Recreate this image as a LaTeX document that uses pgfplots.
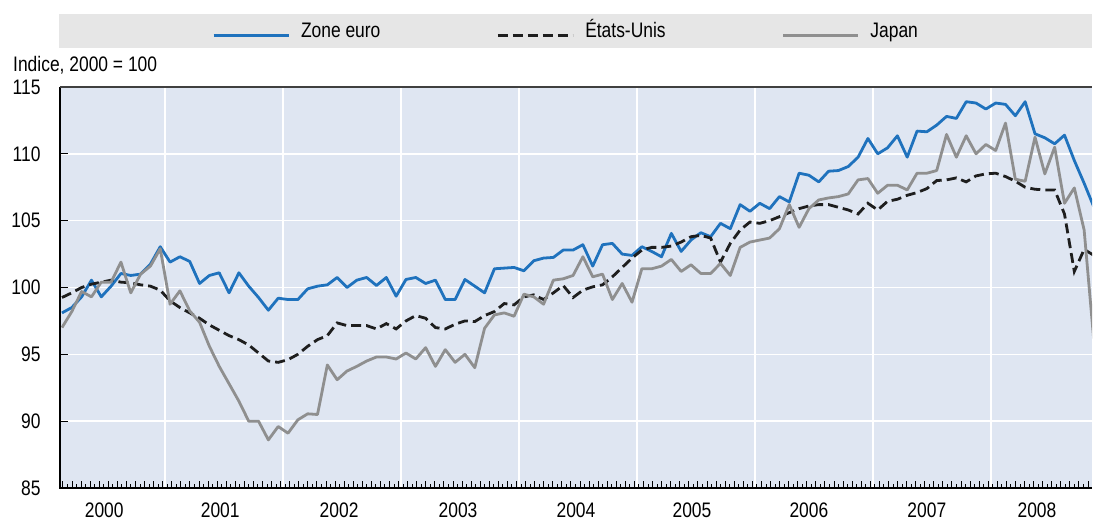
\documentclass[border=0pt]{standalone}
\usepackage{fontspec}
\setmainfont{Liberation Sans}[FakeStretch=0.83]
\usepackage{pgfplots}
\usepackage{pgfplotstable}
\pgfplotsset{compat=1.18}
\definecolor{zeblue}{RGB}{31,114,189}
\definecolor{jpgray}{RGB}{143,143,143}
\definecolor{bgblue}{RGB}{223,230,242}
\definecolor{leggray}{RGB}{230,230,230}
\definecolor{usblack}{RGB}{30,30,30}

\pgfplotstableread{
u ze us jp
1.5 98.1 99.25 97.0
2.5 98.5 99.6 98.2
3.5 99.3 100.0 99.7
4.5 100.55 100.25 99.3
5.5 99.3 100.4 100.4
6.5 100.1 100.55 100.4
7.5 101.05 100.4 101.9
8.5 100.9 100.35 99.6
9.5 101.0 100.2 101.0
10.5 101.75 100.1 101.6
11.5 103.05 99.8 102.9
12.5 101.9 99.0 98.75
13.5 102.3 98.5 99.75
14.5 101.95 98.1 98.25
15.5 100.3 97.7 97.4
16.5 100.9 97.2 95.6
17.5 101.1 96.8 94.1
18.5 99.6 96.4 92.8
19.5 101.1 96.1 91.5
20.5 100.1 95.7 90.0
21.5 99.25 95.1 90.0
22.5 98.3 94.5 88.6
23.5 99.2 94.4 89.6
24.5 99.1 94.6 89.1
25.5 99.1 95.0 90.1
26.5 99.9 95.6 90.55
27.5 100.1 96.1 90.5
28.5 100.2 96.4 94.2
29.5 100.75 97.35 93.1
30.5 100.0 97.15 93.75
31.5 100.55 97.15 94.1
32.5 100.75 97.15 94.5
33.5 100.15 96.9 94.8
34.5 100.75 97.3 94.8
35.5 99.35 96.9 94.65
36.5 100.6 97.5 95.1
37.5 100.75 97.9 94.65
38.5 100.3 97.7 95.5
39.5 100.55 97.0 94.1
40.5 99.1 96.9 95.35
41.5 99.1 97.25 94.4
42.5 100.6 97.5 95.0
43.5 100.1 97.45 94.0
44.5 99.6 97.9 96.95
45.5 101.4 98.2 97.95
46.5 101.45 98.8 98.1
47.5 101.5 98.7 97.85
48.5 101.25 99.3 99.5
49.5 102.0 99.45 99.3
50.5 102.2 99.1 98.75
51.5 102.25 99.6 100.55
52.5 102.8 100.15 100.65
53.5 102.8 99.25 100.9
54.5 103.2 99.8 102.3
55.5 101.6 100.05 100.8
56.5 103.2 100.2 101.0
57.5 103.3 100.8 99.1
58.5 102.5 101.5 100.3
59.5 102.4 102.2 98.9
60.5 103.05 102.8 101.4
61.5 102.7 103.0 101.4
62.5 102.3 103.0 101.6
63.5 104.05 103.1 102.1
64.5 102.7 103.4 101.2
65.5 103.55 103.8 101.7
66.5 104.1 103.9 101.05
67.5 103.8 103.7 101.05
68.5 104.8 101.9 101.8
69.5 104.4 103.3 100.9
70.5 106.2 104.3 103.0
71.5 105.7 104.9 103.4
72.5 106.3 104.8 103.55
73.5 105.9 105.0 103.7
74.5 106.8 105.3 104.4
75.5 106.4 105.6 106.2
76.5 108.55 105.9 104.5
77.5 108.4 106.1 105.9
78.5 107.9 106.2 106.55
79.5 108.7 106.2 106.7
80.5 108.75 106.0 106.8
81.5 109.05 105.8 107.0
82.5 109.75 105.5 108.05
83.5 111.15 106.3 108.15
84.5 110.0 105.8 107.05
85.5 110.45 106.45 107.65
86.5 111.35 106.6 107.65
87.5 109.75 106.9 107.3
88.5 111.7 107.1 108.55
89.5 111.65 107.4 108.55
90.5 112.15 108.0 108.75
91.5 112.8 108.05 111.45
92.5 112.65 108.2 109.75
93.5 113.9 107.9 111.35
94.5 113.8 108.35 110.0
95.5 113.35 108.5 110.7
96.5 113.8 108.55 110.25
97.5 113.7 108.3 112.3
98.5 112.85 107.95 108.1
99.5 113.9 107.5 107.95
100.5 111.5 107.35 111.25
101.5 111.2 107.3 108.5
102.5 110.75 107.3 110.5
103.5 111.4 105.5 106.3
104.5 109.5 101.2 107.45
105.5 107.8 102.85 104.3
106.5 106.0 102.4 95.9
}\data

\begin{document}
\begin{tikzpicture}
\fill[leggray] (-1pt,440pt) rectangle (1032pt,474pt);
\begin{axis}[
  at={(0,0)}, anchor=south west,
  scale only axis, width=1032pt, height=401pt,
  xmin=1.3, xmax=106.3, ymin=85, ymax=115,
  axis background/.style={fill=bgblue},
  axis line style={draw=none},
  xtick={12,24,...,96}, xticklabels={},
  xmajorgrids, ymajorgrids,
  ytick={85,90,...,115},
  ytick pos=left, xtick pos=bottom,
  major tick length=8pt, tick align=inside,
  major x tick style={draw=none},
  major y tick style={black, line width=1.2pt},
  grid style={white, line width=1.6pt},
  font=\fontsize{21}{25}\selectfont,
  /pgf/number format/assume math mode=true,
  yticklabel style={xshift=-16pt},
  legend style={draw=none, fill=none, inner sep=0pt,
    at={(axis description cs:0.1473,1.1347)}, anchor=west,
    font=\fontsize{21}{25}\selectfont,
    nodes={text height=15pt, text depth=5pt},
    /tikz/every odd column/.append style={column sep=9pt},
    /tikz/every even column/.append style={column sep=114pt}},
  legend columns=-1,
  legend image code/.code={\draw[#1] (0pt,-2.5pt) -- (75pt,-2.5pt);},
]
\addplot[zeblue, line width=2.8pt, line join=round] table[x=u, y=ze] {\data};
\addlegendentry{Zone euro}
\addplot[usblack, line width=2.8pt, dash pattern=on 10pt off 5pt] table[x=u, y=us] {\data};
\addlegendentry{États-Unis}
\addplot[jpgray, line width=2.8pt, line join=round] table[x=u, y=jp] {\data};
\addlegendentry{Japan}
\end{axis}
\begin{axis}[
  at={(0,0)}, anchor=south west,
  scale only axis, width=1032pt, height=401pt,
  xmin=1.3, xmax=106.3, ymin=85, ymax=115,
  axis line style={draw=none},
  ytick=\empty,
  xtick={5.8,17.6,29.7,41.8,53.8,65.6,77.5,89.5,100.7},
  xticklabels={2000,2001,2002,2003,2004,2005,2006,2007,2008},
  xticklabel style={yshift=-11pt},
  xtick pos=bottom, tick align=inside,
  major tick length=0pt,
  minor xtick={1.6,2.523,...,106.3},
  minor tick length=7pt,
  minor x tick style={black, line width=1pt},
  extra x ticks={2.06,2.983,...,106.3},
  extra x tick labels={},
  extra x tick style={major tick length=4.5pt, major x tick style={black, line width=1pt}},
  font=\fontsize{21}{25}\selectfont,
  /pgf/number format/assume math mode=true,
]
\end{axis}
\draw[black, line width=2pt] (0,401pt) -- (0,0) -- (1032pt,0);
\draw[black!75, line width=1.2pt] (0,401pt) -- (1032pt,401pt);
\node[anchor=base west, inner sep=0pt, font=\fontsize{21}{25}\selectfont] at (-47pt,416pt) {Indice, 2000 = 100};
\pgfresetboundingbox
\path (-60pt,-34pt) rectangle (1034pt,488pt);
\end{tikzpicture}
\end{document}
